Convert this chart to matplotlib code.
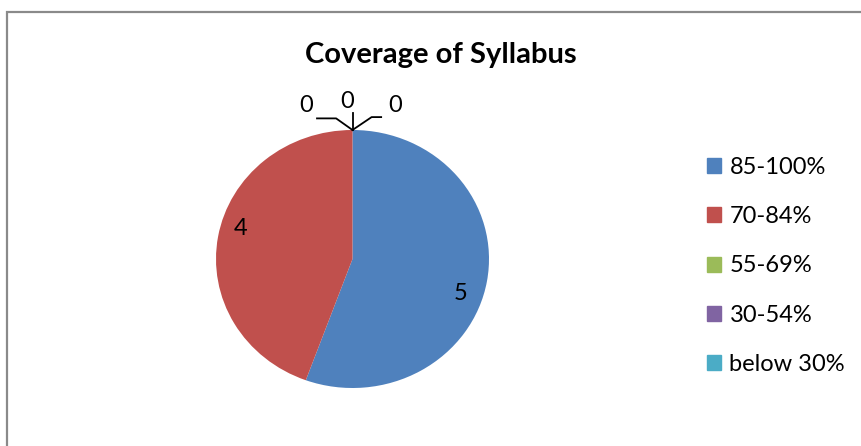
import matplotlib.pyplot as plt
import matplotlib.patches as mpatches
import numpy as np

# data
categories = ['85-100%', '70-84%', '55-69%', '30-54%', 'below 30%']
values = [5, 4, 0, 0, 0]
colors = ['#4F81BD', '#C0504D', '#9BBB59', '#8064A2', '#4BACC6']

W, H = 862, 446
fig = plt.figure(figsize=(W / 100, H / 100), dpi=100)
plt.rcParams['font.family'] = ['Lato', 'DejaVu Sans']

# outer chart frame (runs past right/bottom edge like the screenshot)
fig.patches.append(mpatches.Rectangle((7 / W, -0.05), 1.1, 1 - 12 / H + 0.05,
                                      transform=fig.transFigure, fill=False,
                                      edgecolor='#8a8a8a', lw=1.6))

fig.text(441 / W, 1 - 55 / H, 'Coverage of Syllabus', ha='center', va='center',
         fontsize=21, fontweight='bold')

# pie axes (slightly squashed like the Excel 3D look)
ax = fig.add_axes([216 / W, 1 - 388 / H, 273 / W, 258 / H])
wedges, _ = ax.pie(values, colors=colors, startangle=90, counterclock=False,
                   radius=1, wedgeprops=dict(linewidth=0))
ax.set_xlim(-1, 1)
ax.set_ylim(-1, 1)
ax.set_aspect('auto')
ax.axis('off')
for w in wedges:
    w.set_clip_on(False)

# data labels
ax.text(-0.82, 0.24, str(values[1]), fontsize=17, ha='center', va='center')
ax.text(0.79, -0.27, str(values[0]), fontsize=17, ha='center', va='center')

# zero slices sit at the top of the pie, labels with leader lines
top = (0, 1)
zero_lbl = [(-0.34, 1.19), (-0.04, 1.22), (0.31, 1.19)]
leaders = [[(-0.12, 1.09), (-0.26, 1.09)],
           [(0.0, 1.13)],
           [(0.14, 1.10), (0.21, 1.10)]]
for v, (lx, ly), pts in zip(values[2:], zero_lbl, leaders):
    xs = [top[0]] + [p[0] for p in pts]
    ys = [top[1]] + [p[1] for p in pts]
    ax.plot(xs, ys, color='black', lw=1.3, clip_on=False)
    ax.text(lx, ly, str(v), fontsize=17, ha='center', va='center', clip_on=False)

# legend
handles = [mpatches.Patch(color=c, label=l) for c, l in zip(colors, categories)]
fig.legend(handles=handles, loc='center left', bbox_to_anchor=(707 / W, 1 - 266 / H),
           frameon=False, fontsize=17, handlelength=0.6, handleheight=0.6,
           handletextpad=0.35, labelspacing=1.2, borderpad=0, borderaxespad=0)

fig.savefig('out.png', dpi=100)
